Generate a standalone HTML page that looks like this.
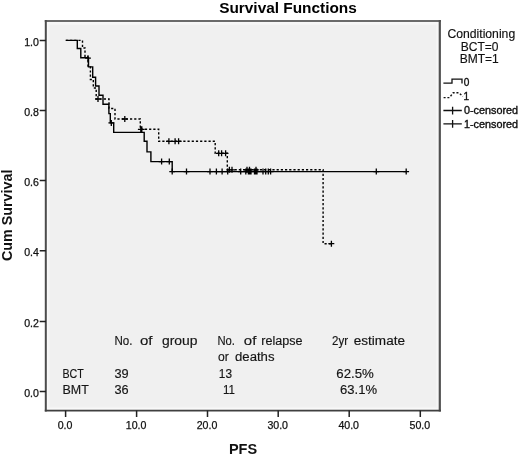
<!DOCTYPE html>
<html><head><meta charset="utf-8"><title>Survival Functions</title>
<style>
html,body{margin:0;padding:0;background:#fff;}
body{width:520px;height:455px;overflow:hidden;font-family:"Liberation Sans",sans-serif;}
svg{display:block;font-family:"Liberation Sans",sans-serif;will-change:transform;transform:translateZ(0);}
.t10{font-size:10.6px;fill:#111;stroke:#111;stroke-width:0.25px;}
.tb{font-size:12px;fill:#151515;stroke:#151515;stroke-width:0.15px;}
.lg{font-size:10px;fill:#111;stroke:#111;stroke-width:0.35px;}
</style></head><body>
<svg width="520" height="455" viewBox="0 0 520 455">
<rect x="0" y="0" width="520" height="455" fill="#ffffff"/>
<rect x="46" y="21" width="393.8" height="389.6" fill="#f0f0f0"/>
<rect x="47.8" y="23" width="390.2" height="385.8" fill="none" stroke="#f9f9f9" stroke-width="1.6"/>
<rect x="49.2" y="24.4" width="387.4" height="383" fill="none" stroke="#f4f4f4" stroke-width="1.2"/>
<path d="M44.8,21H440.9" stroke="#6a6a6a" stroke-width="2.2" fill="none"/>
<path d="M45.8,20V411.5" stroke="#4c4c4c" stroke-width="2" fill="none"/>
<path d="M439.8,20V411.5" stroke="#505050" stroke-width="2.2" fill="none"/>
<path d="M44.8,410.6H440.9" stroke="#404040" stroke-width="1.8" fill="none"/>
<path d="M39.7,40.4H46M39.7,110.6H46M39.7,180.4H46M39.7,250.8H46M39.7,321.4H46M39.7,391.4H46M65.6,410.6V417M136.6,410.6V417M207.5,410.6V417M278.2,410.6V417M349.2,410.6V417M420.3,410.6V417" stroke="#222" stroke-width="1.5" fill="none"/>
<text x="38.9" y="45.8" text-anchor="end" class="t10">1.0</text><text x="38.9" y="116.0" text-anchor="end" class="t10">0.8</text><text x="38.9" y="185.8" text-anchor="end" class="t10">0.6</text><text x="38.9" y="256.2" text-anchor="end" class="t10">0.4</text><text x="38.9" y="326.8" text-anchor="end" class="t10">0.2</text><text x="38.9" y="396.8" text-anchor="end" class="t10">0.0</text><text x="65.1" y="428.5" text-anchor="middle" class="t10">0.0</text><text x="136.1" y="428.5" text-anchor="middle" class="t10">10.0</text><text x="207.0" y="428.5" text-anchor="middle" class="t10">20.0</text><text x="277.7" y="428.5" text-anchor="middle" class="t10">30.0</text><text x="348.7" y="428.5" text-anchor="middle" class="t10">40.0</text><text x="419.8" y="428.5" text-anchor="middle" class="t10">50.0</text>
<text x="288" y="13" text-anchor="middle" font-size="15.4" font-weight="bold" fill="#000">Survival Functions</text>
<text x="243" y="453.7" text-anchor="middle" font-size="14.5" font-weight="bold" fill="#111">PFS</text>
<text transform="translate(12.3,215.3) rotate(-90)" text-anchor="middle" font-size="14.3" font-weight="bold" fill="#111">Cum Survival</text>

<path d="M65.8,40.4 H82.5 V48 H85 V57 H88 V66 H90.4 V79.5 H93.3 V88 H96.2 V99 H109 V108.5 H115 V119 H140.3 V129.3 H158.7 V141.3 H215.2 V153.3 H227.3 V169.8 H323.1 V243.7 H331.4" stroke="#000" stroke-width="1.4" fill="none" stroke-dasharray="2.2,2"/>
<path d="M65.8,40.4 H77.3 V48.5 H80.8 V57.7 H88.5 V66.9 H92.7 V77.3 H95.6 V86 H99 V95.2 H103 V104.2 H108.9 V113.6 H110.3 V122.9 H113.7 V132.4 H144.2 V141.3 H147 V151.9 H150.9 V161.6 H172.2 V171.6 H406.2" stroke="#000" stroke-width="1.4" fill="none"/>
<path d="M85.1,58.2H90.9M88,55.2V61.2 M108.4,122.9H114.2M111.3,119.9V125.9 M158.7,161.6H164.5M161.6,158.6V164.6 M166.4,161.6H172.2M169.3,158.6V164.6 M169.3,171.6H175.1M172.2,168.6V174.6 M183.6,171.6H189.4M186.5,168.6V174.6 M207.1,171.6H212.9M210,168.6V174.6 M213.5,171.6H219.3M216.4,168.6V174.6 M219.2,171.6H225.0M222.1,168.6V174.6 M224.8,171.6H230.6M227.7,168.6V174.6 M237.8,171.6H243.6M240.7,168.6V174.6 M242.9,171.6H248.7M245.8,168.6V174.6 M245.5,171.6H251.3M248.4,168.6V174.6 M246.8,171.6H252.6M249.7,168.6V174.6 M248.1,171.6H253.9M251,168.6V174.6 M251.6,171.6H257.4M254.5,168.6V174.6 M252.9,171.6H258.7M255.8,168.6V174.6 M254.1,171.6H259.9M257,168.6V174.6 M260.1,171.6H265.9M263,168.6V174.6 M262.8,171.6H268.6M265.7,168.6V174.6 M265.4,171.6H271.2M268.3,168.6V174.6 M267.7,171.6H273.5M270.6,168.6V174.6 M373.4,171.6H379.2M376.3,168.6V174.6 M403.3,171.6H409.1M406.2,168.6V174.6 M95.1,99H100.9M98,96.0V102.0 M121.9,119H127.7M124.8,116.0V122.0 M137.9,129.3H143.7M140.8,126.30000000000001V132.3 M138.9,129.3H144.7M141.8,126.30000000000001V132.3 M166.0,141.3H171.8M168.9,138.3V144.3 M172.2,141.3H178.0M175.1,138.3V144.3 M175.7,141.3H181.5M178.6,138.3V144.3 M215.8,153.3H221.6M218.7,150.3V156.3 M218.7,153.3H224.5M221.6,150.3V156.3 M222.7,153.3H228.5M225.6,150.3V156.3 M226.5,169.8H232.3M229.4,166.8V172.8 M229.1,169.8H234.9M232,166.8V172.8 M244.1,169.8H249.9M247,166.8V172.8 M246.6,169.8H252.4M249.5,166.8V172.8 M253.1,169.8H258.9M256,166.8V172.8 M328.5,243.7H334.3M331.4,240.7V246.7" stroke="#000" stroke-width="1.3" fill="none"/>

<!-- legend -->
<text x="481.3" y="38.2" text-anchor="middle" font-size="12.2" fill="#111" stroke="#111" stroke-width="0.15">Conditioning</text>
<text x="479.7" y="50.9" text-anchor="middle" font-size="12" fill="#111" stroke="#111" stroke-width="0.15">BCT=0</text>
<text x="479.3" y="63" text-anchor="middle" font-size="12" fill="#111" stroke="#111" stroke-width="0.15">BMT=1</text>
<path d="M443.4,83.2H452V79.2H462V83.4" stroke="#111" stroke-width="1.3" fill="none"/>
<path d="M443.6,97.6H449.5L453.2,92.8H458.8L462.8,96.4" stroke="#111" stroke-width="1.4" fill="none" stroke-dasharray="2,1.8"/>
<path d="M443.4,110.5H461.8M452.6,106.8V114.4" stroke="#111" stroke-width="1.3" fill="none"/>
<path d="M443.4,123.9H461.8M452.6,120V127.8" stroke="#111" stroke-width="1.3" fill="none"/>
<text x="463.8" y="85.6" class="lg" textLength="5.6" lengthAdjust="spacingAndGlyphs">0</text>
<text x="463.6" y="100.3" class="lg" textLength="5.6" lengthAdjust="spacingAndGlyphs">1</text>
<text x="464" y="113.8" class="lg" textLength="54" lengthAdjust="spacingAndGlyphs">0-censored</text>
<text x="464" y="127.9" class="lg" textLength="54" lengthAdjust="spacingAndGlyphs">1-censored</text>

<!-- table -->
<g class="tb">
<text x="114.5" y="345" textLength="18" lengthAdjust="spacingAndGlyphs">No.</text>
<text x="140" y="345" textLength="12.5" lengthAdjust="spacingAndGlyphs">of</text>
<text x="162" y="345" textLength="35.5" lengthAdjust="spacingAndGlyphs">group</text>
<text x="217.5" y="345" textLength="17.5" lengthAdjust="spacingAndGlyphs">No.</text>
<text x="243.8" y="345" textLength="12.5" lengthAdjust="spacingAndGlyphs">of</text>
<text x="261.3" y="345" textLength="41.2" lengthAdjust="spacingAndGlyphs">relapse</text>
<text x="332" y="345" textLength="16" lengthAdjust="spacingAndGlyphs">2yr</text>
<text x="353.8" y="345" textLength="51.2" lengthAdjust="spacingAndGlyphs">estimate</text>
<text x="218" y="361.2" textLength="10.8" lengthAdjust="spacingAndGlyphs">or</text>
<text x="235" y="361.2" textLength="39.5" lengthAdjust="spacingAndGlyphs">deaths</text>
<text x="62.5" y="377.5" textLength="21.3" lengthAdjust="spacingAndGlyphs">BCT</text>
<text x="114.5" y="377.5" textLength="14.2" lengthAdjust="spacingAndGlyphs">39</text>
<text x="218.8" y="377.5" textLength="13.2" lengthAdjust="spacingAndGlyphs">13</text>
<text x="336.3" y="377.5" textLength="37.5" lengthAdjust="spacingAndGlyphs">62.5%</text>
<text x="62.5" y="393.8" textLength="26.3" lengthAdjust="spacingAndGlyphs">BMT</text>
<text x="114.5" y="393.8" textLength="14.2" lengthAdjust="spacingAndGlyphs">36</text>
<text x="223" y="393.8" textLength="12" lengthAdjust="spacingAndGlyphs">11</text>
<text x="340" y="393.8" textLength="37" lengthAdjust="spacingAndGlyphs">63.1%</text>
</g>
</svg>
</body></html>
